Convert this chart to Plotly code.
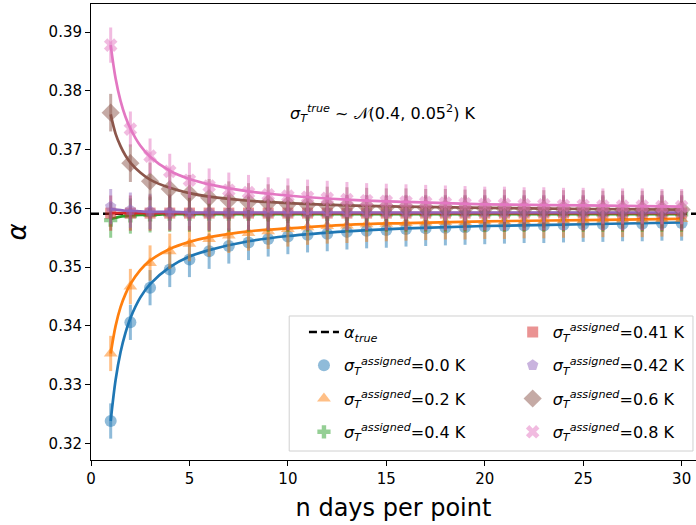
import plotly.graph_objects as go

# ---------------- data ----------------
N_DAYS = list(range(1, 31))
LINE_X = [1, 1.25, 1.5, 1.75, 2, 2.5, 3, 4, 5, 6, 8, 10, 13, 16, 20, 25, 30]
ALPHA_TRUE = 0.3591
X_RANGE = [0, 30.73]
Y_RANGE = [0.31716, 0.3948]

SIGMA_LABELS = ["0.0", "0.2", "0.4", "0.41", "0.42", "0.6", "0.8"]

PTS_00 = [0.3238, 0.3406, 0.3465, 0.3496, 0.3513, 0.3527, 0.3536, 0.3542, 0.3548, 0.3552,
          0.3555, 0.3557, 0.3560, 0.3562, 0.3563, 0.3565, 0.3566, 0.3567, 0.3568, 0.3569,
          0.3570, 0.3571, 0.3571, 0.3572, 0.3573, 0.3573, 0.3574, 0.3574, 0.3575, 0.3575]
PTS_02 = [0.3353, 0.3467, 0.3507, 0.3527, 0.3540, 0.3548, 0.3554, 0.3558, 0.3561, 0.3565,
          0.3568, 0.3570, 0.3571, 0.3573, 0.3574, 0.3575, 0.3576, 0.3577, 0.3577, 0.3578,
          0.3578, 0.3579, 0.3579, 0.3580, 0.3580, 0.3581, 0.3581, 0.3581, 0.3582, 0.3582]
PTS_04 = [0.3580, 0.3587, 0.3589, 0.3590, 0.3590, 0.3590, 0.3590, 0.3590, 0.3590, 0.3590,
          0.3590, 0.3590, 0.3590, 0.3590, 0.3590, 0.3590, 0.3590, 0.3590, 0.3590, 0.3590,
          0.3590, 0.3590, 0.3590, 0.3590, 0.3590, 0.3590, 0.3590, 0.3590, 0.3590, 0.3590]
PTS_041 = [0.3592, 0.3592, 0.3592, 0.3592, 0.3592, 0.3592, 0.3592, 0.3592, 0.3592, 0.3592,
           0.3592, 0.3592, 0.3592, 0.3592, 0.3592, 0.3592, 0.3592, 0.3592, 0.3592, 0.3592,
           0.3592, 0.3592, 0.3592, 0.3592, 0.3592, 0.3592, 0.3592, 0.3592, 0.3592, 0.3592]
PTS_042 = [0.3603, 0.3597, 0.3595, 0.3594, 0.3593, 0.3593, 0.3593, 0.3593, 0.3593, 0.3593,
           0.3593, 0.3593, 0.3593, 0.3593, 0.3593, 0.3593, 0.3593, 0.3593, 0.3593, 0.3593,
           0.3593, 0.3593, 0.3593, 0.3593, 0.3593, 0.3593, 0.3593, 0.3593, 0.3593, 0.3593]
PTS_06 = [0.3763, 0.3677, 0.3646, 0.3633, 0.3625, 0.3618, 0.3614, 0.3611, 0.3609, 0.3607,
          0.3606, 0.3605, 0.3604, 0.3603, 0.3602, 0.3602, 0.3601, 0.3601, 0.3600, 0.3600,
          0.3600, 0.3599, 0.3599, 0.3599, 0.3599, 0.3598, 0.3598, 0.3598, 0.3598, 0.3598]
PTS_08 = [0.3878, 0.3735, 0.3689, 0.3663, 0.3648, 0.3638, 0.3631, 0.3627, 0.3623, 0.3621,
          0.3619, 0.3617, 0.3615, 0.3613, 0.3612, 0.3611, 0.3610, 0.3609, 0.3608, 0.3607,
          0.3607, 0.3606, 0.3606, 0.3605, 0.3605, 0.3604, 0.3604, 0.3604, 0.3603, 0.3603]

FIT_00 = [0.3238, 0.3308, 0.3355, 0.3388, 0.3413, 0.3448, 0.3471, 0.3500, 0.3518, 0.3529,
          0.3544, 0.3553, 0.3561, 0.3566, 0.3570, 0.3573, 0.3576]
FIT_02 = [0.3353, 0.3400, 0.3432, 0.3454, 0.3471, 0.3495, 0.3511, 0.3531, 0.3543, 0.3551,
          0.3561, 0.3566, 0.3572, 0.3575, 0.3578, 0.3580, 0.3582]
FIT_04 = [0.3582, 0.3584, 0.3586, 0.3587, 0.3588, 0.3589, 0.3589, 0.3590, 0.3590, 0.3590,
          0.3590, 0.3590, 0.3590, 0.3590, 0.3590, 0.3590, 0.3590]
FIT_041 = [0.3592, 0.3592, 0.3592, 0.3592, 0.3592, 0.3592, 0.3592, 0.3592, 0.3592, 0.3592,
           0.3592, 0.3592, 0.3592, 0.3592, 0.3592, 0.3592, 0.3592]
FIT_042 = [0.3599, 0.3598, 0.3597, 0.3596, 0.3596, 0.3595, 0.3594, 0.3594, 0.3593, 0.3593,
           0.3593, 0.3593, 0.3593, 0.3593, 0.3593, 0.3593, 0.3593]
FIT_06 = [0.3760, 0.3727, 0.3706, 0.3690, 0.3678, 0.3661, 0.3649, 0.3635, 0.3626, 0.3620,
          0.3613, 0.3609, 0.3605, 0.3603, 0.3601, 0.3599, 0.3598]
FIT_08 = [0.3878, 0.3821, 0.3783, 0.3756, 0.3736, 0.3707, 0.3688, 0.3664, 0.3650, 0.3641,
          0.3629, 0.3622, 0.3615, 0.3611, 0.3607, 0.3605, 0.3603]

ERRS = [0.0030, 0.0030, 0.0030, 0.0030, 0.0030, 0.0032, 0.0030]

POINTS = [PTS_00, PTS_02, PTS_04, PTS_041, PTS_042, PTS_06, PTS_08]
FITS = [FIT_00, FIT_02, FIT_04, FIT_041, FIT_042, FIT_06, FIT_08]

# ---------------- styles ----------------
COLORS = [(31, 119, 180), (255, 127, 14), (44, 160, 44), (214, 39, 40),
          (148, 103, 189), (140, 86, 75), (227, 119, 194)]
SYMBOLS = ["circle", "triangle-up", "cross", "square", "pentagon", "diamond", "x"]
SIZES = [12, 12, 11, 11, 12, 14, 12]
LEGENDS = ["legend", "legend", "legend", "legend2", "legend2", "legend2", "legend2"]
FONT = "DejaVu Sans"

fig = go.Figure()

fig.add_trace(go.Scatter(
    x=X_RANGE, y=[ALPHA_TRUE, ALPHA_TRUE], mode="lines",
    line=dict(color="black", width=2.5, dash="8px,4px"),
    name="<i>α</i><sub><i>true</i></sub>", legend="legend", legendgroup="gt",
))

for i, lab in enumerate(SIGMA_LABELS):
    r, g, b = COLORS[i]
    fig.add_trace(go.Scatter(
        x=N_DAYS, y=POINTS[i], mode="markers",
        marker=dict(symbol=SYMBOLS[i], size=SIZES[i], color=f"rgba({r},{g},{b},0.5)",
                    line=dict(width=0)),
        error_y=dict(type="constant", value=ERRS[i], color=f"rgba({r},{g},{b},0.5)",
                     thickness=3, width=0),
        name=f"<i>σ</i><sub><i>T</i></sub><sup><i>assigned</i></sup>={lab} K",
        legend=LEGENDS[i], legendgroup=f"g{i}",
    ))
    fig.add_trace(go.Scatter(
        x=LINE_X, y=FITS[i], mode="lines", line=dict(color=f"rgb({r},{g},{b})", width=2.7,
                                                     shape="spline"),
        showlegend=False, hoverinfo="skip",
    ))

fig.add_annotation(
    x=10.0, y=0.3761, xref="x", yref="y", xanchor="left", yanchor="middle",
    text="<i>σ</i><sub><i>T</i></sub><sup><i>true</i></sup> ~ 𝒩(0.4, 0.05<sup>2</sup>) K",
    showarrow=False, font=dict(family=FONT, size=16, color="black"),
)

# legend frame
fig.add_shape(type="rect", xref="paper", yref="paper",
              x0=0.3276, x1=0.995, y0=0.0197, y1=0.3158,
              line=dict(color="#d0d0d0", width=1), fillcolor="rgba(255,255,255,0.8)",
              layer="above")

axis_common = dict(
    showline=True, linecolor="black", linewidth=1, ticks="outside", ticklen=5,
    tickwidth=1, tickcolor="black", showgrid=False, zeroline=False,
    tickfont=dict(family=FONT, size=15, color="black"),
)

fig.update_layout(
    width=696, height=525,
    margin=dict(l=91, r=0, t=4, b=65),
    plot_bgcolor="white", paper_bgcolor="white",
    font=dict(family=FONT, size=15, color="black"),
    xaxis=dict(range=X_RANGE, tickvals=[0, 5, 10, 15, 20, 25, 30], mirror=True,
               title=dict(text="n days per point", font=dict(family=FONT, size=24),
                          standoff=12),
               **axis_common),
    yaxis=dict(range=Y_RANGE, dtick=0.01, tick0=0.32, tickformat=".2f",
               title=dict(text="<i>α</i>", font=dict(family=FONT, size=26), standoff=14),
               **axis_common),
    legend=dict(x=0.352, y=0.318, xanchor="left", yanchor="top",
                bgcolor="rgba(0,0,0,0)", borderwidth=0, tracegroupgap=9.5,
                font=dict(family=FONT, size=16, color="black")),
    legend2=dict(x=0.697, y=0.318, xanchor="left", yanchor="top",
                 bgcolor="rgba(0,0,0,0)", borderwidth=0, tracegroupgap=9.5,
                 font=dict(family=FONT, size=16, color="black")),
    showlegend=True,
)

fig.write_html("out.html")
